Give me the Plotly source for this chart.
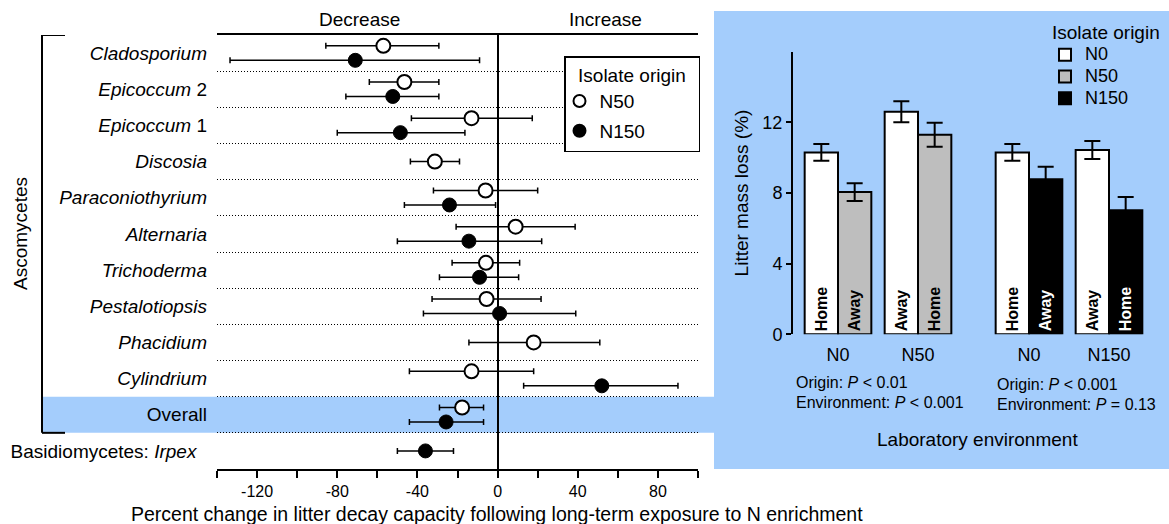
import plotly.graph_objects as go

W, H = 1169, 524
FONT = "Liberation Sans, Arial, Helvetica, sans-serif"
BLUE = "#a4cdfc"

# ---------------- Left panel data ----------------
rows = ["<i>Cladosporium</i>", "<i>Epicoccum</i> 2", "<i>Epicoccum</i> 1", "<i>Discosia</i>",
        "<i>Paraconiothyrium</i>", "<i>Alternaria</i>", "<i>Trichoderma</i>", "<i>Pestalotiopsis</i>",
        "<i>Phacidium</i>", "<i>Cylindrium</i>", "Overall",
        "Basidiomycetes: <i>Irpex</i>\u00a0\u00a0"]

n50_mean = [-57, -46.5, -13, -31.3, -6, 9, -5.8, -5.5, 18, -13, -17.7, None]
n50_lo = [-85.7, -64, -43, -43.5, -32, -20.7, -22.7, -32.7, -14.3, -44, -29, None]
n50_hi = [-29.3, -29.3, 17.3, -19, 20, 38.7, 11, 21.7, 51, 18, -7, None]

n150_mean = [-71, -52.3, -48.5, None, -24, -14.3, -9, 1, None, 52, -25.7, -36]
n150_lo = [-133.5, -75.7, -80, None, -46.5, -50, -29, -37, None, 13, -44, -50]
n150_hi = [-9, -29.3, -16.3, None, -1, 22, 10.5, 39, None, 90, -7, -22]

x_ticks = list(range(-140, 101, 20))
x_ticklabels = [str(v) if v % 40 == 0 else "" for v in x_ticks]

# ---------------- Right panel data ----------------
env_left = ["N0", "N50"]
env_right = ["N0", "N150"]
n0_left = [10.3, 12.6]
n0_left_err = [0.47, 0.59]
n50_bar = [8.05, 11.3]
n50_bar_err = [0.5, 0.68]
n0_right = [10.3, 10.43]
n0_right_err = [0.47, 0.51]
n150_bar = [8.78, 7.03]
n150_bar_err = [0.7, 0.74]
lab_n0_left = ["Home", "Away"]
lab_n50 = ["Away", "Home"]
lab_n0_right = ["Home", "Away"]
lab_n150 = ["Away", "Home"]
y2_ticks = [0, 4, 8, 12]


def px_x(p):
    return p / W


def px_y(p):
    return 1 - p / H


def big(s):
    return "<span style='font-size:18px'>" + s + "</span>"


n = len(rows)
idx = list(range(n))


def ypos(i, sign):
    both = n50_mean[i] is not None and n150_mean[i] is not None
    return i + sign * 0.2 if both else i


fig = go.Figure()

# N50 open circles
fig.add_trace(go.Scatter(
    x=n50_mean, y=[ypos(i, -1) for i in idx], mode="markers", name="N50",
    xaxis="x", yaxis="y", legend="legend", legendgroup="a",
    marker=dict(symbol="circle", size=14, color="white", line=dict(color="black", width=2)),
    error_x=dict(type="data", symmetric=False,
                 array=[None if m is None else h - m for m, h in zip(n50_mean, n50_hi)],
                 arrayminus=[None if m is None else m - l for m, l in zip(n50_mean, n50_lo)],
                 thickness=1.5, width=3, color="black"),
))
# N150 filled circles
fig.add_trace(go.Scatter(
    x=n150_mean, y=[ypos(i, 1) for i in idx], mode="markers", name="N150",
    xaxis="x", yaxis="y", legend="legend", legendgroup="b",
    marker=dict(symbol="circle", size=14, color="black", line=dict(color="black", width=1)),
    error_x=dict(type="data", symmetric=False,
                 array=[None if m is None else h - m for m, h in zip(n150_mean, n150_hi)],
                 arrayminus=[None if m is None else m - l for m, l in zip(n150_mean, n150_lo)],
                 thickness=1.5, width=3, color="black"),
))

bar_common = dict(textposition="inside", textangle=-90, insidetextanchor="start",
                  cliponaxis=False)
err = lambda a: dict(type="data", array=a, thickness=2, width=8, color="black")
tf = lambda c: dict(color=c, size=16, weight="bold", family=FONT)

fig.add_trace(go.Bar(x=env_left, y=n0_left, error_y=err(n0_left_err), name=big("N0"),
                     xaxis="x2", yaxis="y2", legend="legend2",
                     marker=dict(color="white", line=dict(color="black", width=2)),
                     text=lab_n0_left, textfont=tf("black"), **bar_common))
fig.add_trace(go.Bar(x=env_left, y=n50_bar, error_y=err(n50_bar_err), name=big("N50"),
                     xaxis="x2", yaxis="y2", legend="legend2",
                     marker=dict(color="#bebebe", line=dict(color="black", width=2)),
                     text=lab_n50, textfont=tf("black"), **bar_common))
fig.add_trace(go.Bar(x=env_right, y=n0_right, error_y=err(n0_right_err), name="N0",
                     xaxis="x3", yaxis="y2", showlegend=False,
                     marker=dict(color="white", line=dict(color="black", width=2)),
                     text=lab_n0_right, textfont=tf("black"), **bar_common))
fig.add_trace(go.Bar(x=env_right, y=n150_bar, error_y=err(n150_bar_err), name=big("N150"),
                     xaxis="x3", yaxis="y2", legend="legend2",
                     marker=dict(color="black", line=dict(color="black", width=2)),
                     text=lab_n150, textfont=tf("white"), **bar_common))

shapes = [
    # blue right panel
    dict(type="rect", xref="paper", yref="paper", x0=px_x(714), x1=1, y0=px_y(469), y1=px_y(11),
         fillcolor=BLUE, line=dict(width=0), layer="below"),
    # Overall band
    dict(type="rect", xref="paper", yref="y", x0=px_x(42), x1=px_x(714), y0=9.5, y1=10.5,
         fillcolor=BLUE, line=dict(width=0), layer="below"),
    # bracket
    dict(type="line", xref="paper", yref="y", x0=px_x(42), x1=px_x(42), y0=-0.5, y1=10.5,
         line=dict(color="black", width=2)),
    dict(type="line", xref="paper", yref="y", x0=px_x(42), x1=px_x(65), y0=-0.5, y1=-0.5,
         line=dict(color="black", width=2)),
    dict(type="line", xref="paper", yref="y", x0=px_x(42), x1=px_x(65), y0=10.5, y1=10.5,
         line=dict(color="black", width=2)),
]


def ann(text, x, y, size, xref="paper", xanchor="center", angle=0):
    return dict(text=text, xref=xref, yref="paper", x=x, y=y, showarrow=False,
                xanchor=xanchor, yanchor="middle", textangle=angle, font=dict(size=size))


annotations = [
    ann("Decrease", -69, px_y(20), 19, xref="x"),
    ann("Increase", 54, px_y(20), 19, xref="x"),
    ann("Ascomycetes", px_x(20), px_y(234), 19, angle=-90),
    ann("Percent change in litter decay capacity following long-term exposure to N enrichment",
        -0.5, px_y(514), 19.5, xref="x"),
    ann("Origin: <i>P</i> < 0.01", px_x(794), px_y(382), 16, xanchor="left"),
    ann("Environment: <i>P</i> < 0.001", px_x(794), px_y(402), 16, xanchor="left"),
    ann("Origin: <i>P</i> < 0.001", px_x(995), px_y(384), 16, xanchor="left"),
    ann("Environment: <i>P</i> = 0.13", px_x(995), px_y(404), 16, xanchor="left"),
    ann("Laboratory environment", px_x(977), px_y(439), 19),
]

fig.update_layout(
    template="none",
    width=W, height=H, margin=dict(l=0, r=0, t=0, b=0, pad=0, autoexpand=False),
    paper_bgcolor="white", plot_bgcolor="rgba(0,0,0,0)",
    font=dict(family=FONT, size=18, color="black"),
    barmode="group", bargap=0.1667, bargroupgap=0,
    shapes=shapes, annotations=annotations,
    xaxis=dict(domain=[px_x(217), px_x(698)], range=[-140, 100], anchor="y", automargin=False,
               tickmode="array", tickvals=x_ticks, ticktext=x_ticklabels,
               ticks="outside", ticklen=7, tickwidth=2, tickcolor="black",
               showline=True, linewidth=2, linecolor="black", mirror=True,
               zeroline=True, zerolinewidth=2, zerolinecolor="black", showgrid=False,
               tickfont=dict(size=16)),
    yaxis=dict(domain=[px_y(469), px_y(35)], range=[11.5, -0.5], anchor="x", automargin=False,
               tickmode="array", tickvals=idx, ticktext=rows, ticks="",
               ticklabelstandoff=9,
               showline=False, zeroline=False, showgrid=False,
               tickfont=dict(size=19),
               minor=dict(tickvals=[i + 0.5 for i in range(n - 1)], showgrid=True,
                          griddash="1px,2px", gridcolor="black", gridwidth=1, ticks="")),
    xaxis2=dict(domain=[px_x(798), px_x(958)], anchor="y2", type="category", automargin=False,
                categoryorder="array", categoryarray=env_left,
                showline=False, zeroline=False, showgrid=False,
                ticks="outside", ticklen=4, tickcolor="rgba(0,0,0,0)", tickfont=dict(size=18)),
    xaxis3=dict(domain=[px_x(989), px_x(1149)], anchor="y2", type="category", automargin=False,
                categoryorder="array", categoryarray=env_right,
                showline=False, zeroline=False, showgrid=False,
                ticks="outside", ticklen=4, tickcolor="rgba(0,0,0,0)", tickfont=dict(size=18)),
    yaxis2=dict(domain=[px_y(334.3), px_y(51.7)], range=[0, 16], anchor="free", automargin=False,
                position=px_x(792), tickmode="array", tickvals=y2_ticks,
                ticks="outside", ticklen=5, tickwidth=2, tickcolor="black",
                showline=True, linewidth=2, linecolor="black", zeroline=False, showgrid=False,
                tickfont=dict(size=18),
                title=dict(text="Litter mass loss (%)", font=dict(size=19), standoff=8)),
    legend=dict(x=px_x(564), y=px_y(56), xanchor="left", yanchor="top",
                bgcolor="white", bordercolor="black", borderwidth=1.5,
                title=dict(text="\u00a0\u00a0Isolate origin\u00a0\u00a0", font=dict(size=19)),
                font=dict(size=19), itemsizing="constant", tracegroupgap=2,
                traceorder="grouped", indentation=-6),
    legend2=dict(x=1 - 7 / W, y=px_y(14), xanchor="right", yanchor="top",
                 bgcolor="rgba(0,0,0,0)", borderwidth=0,
                 title=dict(text="Isolate origin", font=dict(size=19)),
                 font=dict(size=14.5), traceorder="normal", indentation=-5),
)

fig.write_html("out.html", config={"displayModeBar": False},
               post_script="document.body.style.margin='0px';document.body.style.overflow='hidden';")
